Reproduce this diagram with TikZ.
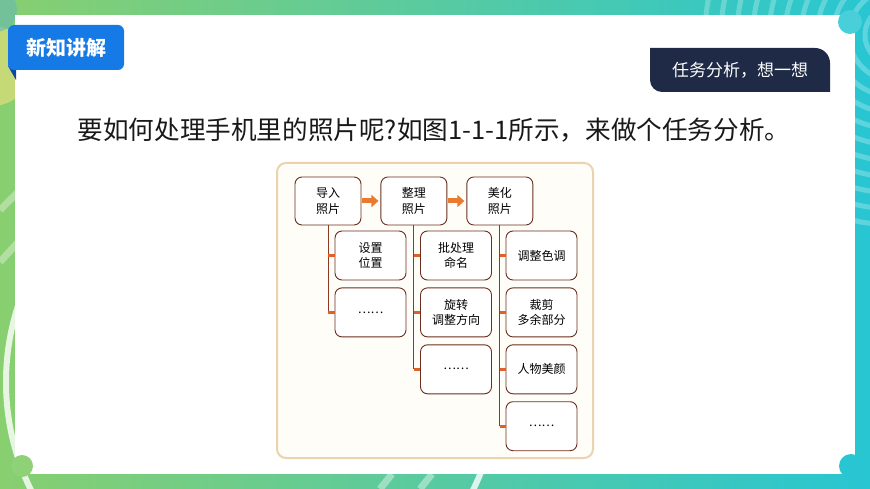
\documentclass[tikz,border=0pt]{standalone}
\usepackage{fontspec}
\usepackage{tikz}
\usetikzlibrary{shapes, arrows.meta, calc, positioning}

\newfontfamily\cjk{Noto Sans CJK SC}

\definecolor{bandgreen}{HTML}{88CF6F}
\definecolor{bandteal}{HTML}{28C6D2}
\definecolor{blobyellow}{HTML}{D6DC7A}
\definecolor{tabblue}{HTML}{1579E6}
\definecolor{tabfold}{HTML}{0B48A6}
\definecolor{tabnavy}{HTML}{1F2A46}
\definecolor{paperline}{HTML}{EBD3AF}
\definecolor{paper}{HTML}{FFFDF8}
\definecolor{boxbrown}{HTML}{6A2E1E}
\definecolor{stembrown}{HTML}{8C3A22}
\definecolor{tickorange}{HTML}{E0602A}
\definecolor{arroworange}{HTML}{E97B30}

\begin{document}
\begin{tikzpicture}[x=1pt, y=-1pt, >={Triangle[length=7pt, width=12pt]}, node distance=7pt]
	\tikzstyle{mainbox} = [draw=boxbrown, line width=0.9pt, rounded corners=7pt, fill=white, minimum width=66pt, minimum height=48pt, inner sep=1pt, align=center, font=\cjk\fontsize{12}{15.5}\selectfont]
	\tikzstyle{subbox} = [mainbox, minimum width=71pt, minimum height=49pt]
	\tikzstyle{stem} = [draw=stembrown, line width=1pt]
	\tikzstyle{tick} = [draw=tickorange, line width=3pt]
	\tikzstyle{flow} = [->, draw=arroworange, line width=5pt, shorten <=1pt, shorten >=2pt]
	\tikzstyle{ring} = [draw=white, opacity=0.25, line width=5pt]

	\useasboundingbox (0,0) rectangle (870,489);

	\shade[left color=bandgreen, right color=bandteal] (0,0) rectangle (870,489);
	\fill[blobyellow, opacity=0.8] (-8,66) circle (40pt);
	\fill[cyan!40!bandgreen, opacity=0.6] (-5,10) circle (22pt);
	\draw[white, opacity=0.8, line width=6pt] (252,382) circle (246pt);
	\draw[white, opacity=0.35, line width=7pt] (0,210) -- (20,190) (0,262) -- (20,240);
	\draw[white, opacity=0.4, line width=7pt] (380,489) -- (392,474) (420,489) -- (432,474);
	\foreach \r in {30,46,...,190}
		\draw[ring] (895,35) circle (\r pt);

	\fill[white] (15,15) rectangle (855,474);
	\fill[bandgreen!95!white] (22,466) circle (11pt);
	\fill[bandteal] (851,466) circle (12pt);
	\fill[bandteal!85!white] (850,22) circle (12pt);

	\fill[tabfold] (8,66) -- (16,66) -- (16,80) -- cycle;
	\fill[tabblue, rounded corners=6pt] (8,25) rectangle (124,70);
	\node[text=white, font=\cjk\bfseries\fontsize{20}{22}\selectfont] (tag) at (66,47.5) {新知讲解};

	\fill[tabnavy] (650,60) -- (650,80) arc[start angle=180, end angle=270, radius=12pt] -- (830,92) -- (830,63) arc[start angle=0, end angle=90, radius=15pt] -- (650,48) -- cycle;
	\node[text=white, font=\cjk\fontsize{17}{20}\selectfont] (think) at (740,70) {任务分析，想一想};

	\node[text=black!90, font=\cjk\fontsize{25.6}{28}\selectfont] (title) at (434,130) {要如何处理手机里的照片呢?如图1-1-1所示，来做个任务分析。};

	\filldraw[draw=paperline, fill=paper, line width=2pt, rounded corners=9pt] (277,163) rectangle (593,458);

	\node[mainbox] (import) at (328,201) {导入\\照片};
	\node[mainbox, right=19pt of import] (sort) {整理\\照片};
	\node[mainbox, right=19pt of sort] (beauty) {美化\\照片};

	\node[subbox] (place) at (370.5,255.5) {设置\\位置};
	\node[subbox, below=of place] (more1) {……};

	\node[subbox] (batch) at (456,255.5) {批处理\\命名};
	\node[subbox, below=of batch] (rotate) {旋转\\调整方向};
	\node[subbox, below=of rotate] (more2) {……};

	\node[subbox] (tone) at (541.5,255.5) {调整色调};
	\node[subbox, below=of tone] (crop) {裁剪\\多余部分};
	\node[subbox, below=of crop] (face) {人物美颜};
	\node[subbox, below=of face] (more3) {……};

	\draw[flow] (import) -- (sort);
	\draw[flow] (sort) -- (beauty);

	\draw[stem] (import.south) -- (import.south |- more1.west);
	\draw[stem] (sort.south) -- (sort.south |- more2.west);
	\draw[stem] (beauty.south) -- (beauty.south |- more3.west);

	\foreach \b in {place, more1}
		\draw[tick] (import.south |- \b.west) -- (\b.west);
	\foreach \b in {batch, rotate, more2}
		\draw[tick] (sort.south |- \b.west) -- (\b.west);
	\foreach \b in {tone, crop, face, more3}
		\draw[tick] (beauty.south |- \b.west) -- (\b.west);
\end{tikzpicture}
\end{document}
